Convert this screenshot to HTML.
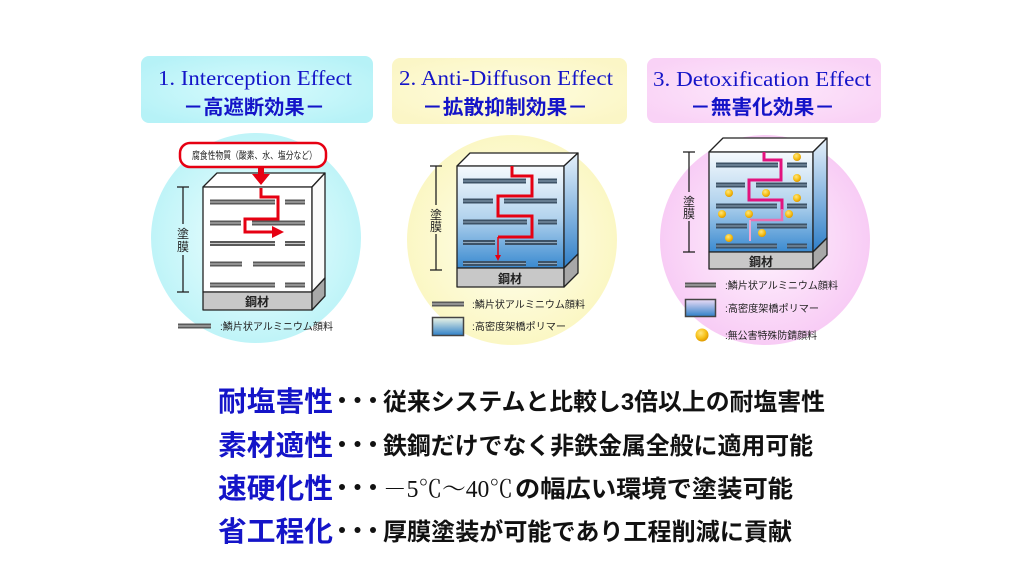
<!DOCTYPE html>
<html><head><meta charset="utf-8">
<style>
html,body{margin:0;padding:0;background:#fff;}
svg{display:block;}
.jp{font-family:"Liberation Sans","Noto Sans CJK JP",sans-serif;}
.ser{font-family:"Liberation Serif","Noto Serif CJK SC",serif;}
</style></head>
<body>
<svg width="1024" height="576" viewBox="0 0 1024 576" xmlns="http://www.w3.org/2000/svg">
<defs>
 <radialGradient id="c1" cx="50%" cy="50%" r="50%"><stop offset="0" stop-color="#f2ffff"/><stop offset="1" stop-color="#bff4f8"/></radialGradient>
 <radialGradient id="c2" cx="50%" cy="50%" r="50%"><stop offset="0" stop-color="#fffff0"/><stop offset="1" stop-color="#fbf7c4"/></radialGradient>
 <radialGradient id="c3" cx="50%" cy="50%" r="50%"><stop offset="0" stop-color="#fff4fe"/><stop offset="1" stop-color="#f8ccf5"/></radialGradient>
 <radialGradient id="h1" cx="50%" cy="50%" r="60%"><stop offset="0" stop-color="#d8fbfd"/><stop offset="1" stop-color="#b6f2f7"/></radialGradient>
 <radialGradient id="h2" cx="50%" cy="50%" r="60%"><stop offset="0" stop-color="#fffde0"/><stop offset="1" stop-color="#fbf6c6"/></radialGradient>
 <radialGradient id="h3" cx="50%" cy="50%" r="60%"><stop offset="0" stop-color="#fde8fb"/><stop offset="1" stop-color="#f9d2f6"/></radialGradient>
 <linearGradient id="fr" x1="0" y1="0" x2="0" y2="1"><stop offset="0" stop-color="#f6fafd"/><stop offset="0.5" stop-color="#b4d4ee"/><stop offset="1" stop-color="#3a8ad0"/></linearGradient>
 <linearGradient id="sd" x1="0" y1="0" x2="0" y2="1"><stop offset="0" stop-color="#e6f1fa"/><stop offset="1" stop-color="#2f7fc8"/></linearGradient>
 <linearGradient id="lg2" x1="0" y1="0" x2="0" y2="1"><stop offset="0" stop-color="#eef6e6"/><stop offset="1" stop-color="#2f80c8"/></linearGradient>
 <linearGradient id="lg3" x1="0" y1="0" x2="0" y2="1"><stop offset="0" stop-color="#ecdcf6"/><stop offset="1" stop-color="#2f80c8"/></linearGradient>
 <radialGradient id="dot" cx="40%" cy="35%" r="65%"><stop offset="0" stop-color="#ffe680"/><stop offset="0.6" stop-color="#f7c21a"/><stop offset="1" stop-color="#e09a00"/></radialGradient>
</defs>

<!-- Header boxes -->
<rect x="141" y="56" width="232" height="67" rx="8" fill="url(#h1)"/>
<rect x="392" y="58" width="235" height="66" rx="8" fill="url(#h2)"/>
<rect x="647" y="58" width="234" height="65" rx="8" fill="url(#h3)"/>

<g fill="#1414c8">
 <text class="ser" x="158" y="85" font-size="21" textLength="194" lengthAdjust="spacingAndGlyphs">1. Interception  Effect</text>
 <text class="ser" x="399" y="85" font-size="21" textLength="214" lengthAdjust="spacingAndGlyphs">2. Anti-Diffuson  Effect</text>
 <text class="ser" x="653" y="86" font-size="21" textLength="218" lengthAdjust="spacingAndGlyphs">3. Detoxification  Effect</text>
 <text class="jp" x="183" y="114" font-size="20" font-weight="bold" textLength="142" lengthAdjust="spacingAndGlyphs">－高遮断効果－</text>
 <text class="jp" x="422" y="114" font-size="20" font-weight="bold" textLength="166" lengthAdjust="spacingAndGlyphs">－拡散抑制効果－</text>
 <text class="jp" x="690" y="114" font-size="20" font-weight="bold" textLength="145" lengthAdjust="spacingAndGlyphs">－無害化効果－</text>
</g>

<!-- Circles -->
<circle cx="256" cy="238" r="105" fill="url(#c1)"/>
<circle cx="512" cy="240" r="105" fill="url(#c2)"/>
<circle cx="765" cy="240" r="105" fill="url(#c3)"/>

<!-- ===== Panel 1 ===== -->
<rect x="180" y="143" width="146" height="24" rx="10" fill="#fff" stroke="#e60012" stroke-width="2.5"/>
<text class="jp" x="192" y="159" font-size="10" fill="#222" textLength="125" lengthAdjust="spacingAndGlyphs">腐食性物質（酸素、水、塩分など）</text>
<g stroke="#222" stroke-width="1.3" stroke-linejoin="round">
 <polygon points="203,187 217,173 325,173 312,187" fill="#fff"/>
 <rect x="203" y="187" width="109" height="105" fill="#fff"/>
 <polygon points="312,187 325,173 325,278 312,292" fill="#fafafa"/>
 <rect x="203" y="292" width="109" height="18" fill="#c8c8c8"/>
 <polygon points="312,292 325,278 325,296 312,310" fill="#a8a8a8"/>
</g>
<text class="jp" x="257" y="306" font-size="12" font-weight="bold" fill="#222" text-anchor="middle">鋼材</text>
<g fill="#5a5a5a">
 <rect x="210" y="199.5" width="65" height="5"/><rect x="285" y="199.5" width="20" height="5"/>
 <rect x="210" y="220.5" width="31" height="5"/><rect x="252" y="220.5" width="53" height="5"/>
 <rect x="210" y="241" width="65" height="5"/><rect x="285" y="241" width="20" height="5"/>
 <rect x="210" y="261.5" width="32" height="5"/><rect x="253" y="261.5" width="52" height="5"/>
 <rect x="210" y="282.5" width="65" height="5"/><rect x="285" y="282.5" width="20" height="5"/>
</g>
<g fill="#c8c8c8">
 <rect x="210" y="201.5" width="65" height="1"/><rect x="285" y="201.5" width="20" height="1"/>
 <rect x="210" y="222.5" width="31" height="1"/><rect x="252" y="222.5" width="53" height="1"/>
 <rect x="210" y="243" width="65" height="1"/><rect x="285" y="243" width="20" height="1"/>
 <rect x="210" y="263.5" width="32" height="1"/><rect x="253" y="263.5" width="52" height="1"/>
 <rect x="210" y="284.5" width="65" height="1"/><rect x="285" y="284.5" width="20" height="1"/>
</g>
<!-- red arrows -->
<rect x="258" y="166" width="6" height="9" fill="#e60012"/>
<polygon points="252,174 270,174 261,185" fill="#e60012"/>
<polyline points="261,188 261,197 278,197 278,219 245,219 245,232 274,232" fill="none" stroke="#e60012" stroke-width="3"/>
<polygon points="272,226 284,232 272,238" fill="#e60012"/>
<!-- dim -->
<g stroke="#222" stroke-width="1.3">
 <line x1="177" y1="187" x2="189" y2="187"/><line x1="177" y1="292" x2="189" y2="292"/>
 <line x1="183" y1="187" x2="183" y2="224"/><line x1="183" y1="255" x2="183" y2="292"/>
</g>
<text class="jp" x="183" y="238" font-size="12" fill="#222" text-anchor="middle">塗</text>
<text class="jp" x="183" y="251" font-size="12" fill="#222" text-anchor="middle">膜</text>
<!-- legend -->
<rect x="178" y="323.5" width="33" height="5" fill="#5a5a5a"/><rect x="178" y="325.5" width="33" height="1" fill="#c8c8c8"/>
<text class="jp" x="220" y="330" font-size="10" fill="#222" textLength="113" lengthAdjust="spacingAndGlyphs">:鱗片状アルミニウム顔料</text>

<!-- ===== Panel 2 ===== -->
<g stroke="#222" stroke-width="1.3" stroke-linejoin="round">
 <polygon points="457,166 470,153 578,153 564,166" fill="#fff"/>
 <rect x="457" y="166" width="107" height="102" fill="url(#fr)"/>
 <polygon points="564,166 578,153 578,254 564,268" fill="url(#sd)"/>
 <rect x="457" y="268" width="107" height="19" fill="#c8c8c8"/>
 <polygon points="564,268 578,254 578,273 564,287" fill="#a8a8a8"/>
</g>
<text class="jp" x="510" y="283" font-size="12" font-weight="bold" fill="#222" text-anchor="middle">鋼材</text>
<g fill="#3d5266">
 <rect x="463" y="178.5" width="63" height="5"/><rect x="538" y="178.5" width="19" height="5"/>
 <rect x="463" y="198.5" width="30" height="5"/><rect x="504" y="198.5" width="53" height="5"/>
 <rect x="463" y="219.5" width="64" height="5"/><rect x="538" y="219.5" width="19" height="5"/>
 <rect x="463" y="240" width="32" height="5"/><rect x="505" y="240" width="52" height="5"/>
 <rect x="463" y="261" width="63" height="5"/><rect x="538" y="261" width="19" height="5"/>
</g>
<g fill="#8fa6ba">
 <rect x="463" y="180.5" width="63" height="1"/><rect x="538" y="180.5" width="19" height="1"/>
 <rect x="463" y="200.5" width="30" height="1"/><rect x="504" y="200.5" width="53" height="1"/>
 <rect x="463" y="221.5" width="64" height="1"/><rect x="538" y="221.5" width="19" height="1"/>
 <rect x="463" y="242" width="32" height="1"/><rect x="505" y="242" width="52" height="1"/>
 <rect x="463" y="263" width="63" height="1"/><rect x="538" y="263" width="19" height="1"/>
</g>
<polyline points="512,166 512,176 532,176 532,196 498,196 498,216 532,216 532,237 498,237" fill="none" stroke="#e60012" stroke-width="3"/>
<line x1="498" y1="237" x2="498" y2="256" stroke="#e60012" stroke-width="1.5"/>
<polygon points="495,255 501,255 498,261" fill="#e60012"/>
<g stroke="#222" stroke-width="1.3">
 <line x1="430" y1="166" x2="442" y2="166"/><line x1="430" y1="270" x2="442" y2="270"/>
 <line x1="436" y1="166" x2="436" y2="205"/><line x1="436" y1="234" x2="436" y2="270"/>
</g>
<text class="jp" x="436" y="219" font-size="12" fill="#222" text-anchor="middle">塗</text>
<text class="jp" x="436" y="231" font-size="12" fill="#222" text-anchor="middle">膜</text>
<rect x="432" y="301.5" width="32" height="5" fill="#5a5a5a"/><rect x="432" y="303.5" width="32" height="1" fill="#c8c8c8"/>
<text class="jp" x="472" y="308" font-size="10" fill="#222" textLength="113" lengthAdjust="spacingAndGlyphs">:鱗片状アルミニウム顔料</text>
<rect x="432.5" y="317.5" width="31" height="18" fill="url(#lg2)" stroke="#444" stroke-width="1.5"/>
<text class="jp" x="472" y="330" font-size="10" fill="#222" textLength="94" lengthAdjust="spacingAndGlyphs">:高密度架橋ポリマー</text>

<!-- ===== Panel 3 ===== -->
<g stroke="#222" stroke-width="1.3" stroke-linejoin="round">
 <polygon points="709,152 723,138 827,138 813,152" fill="#fff"/>
 <rect x="709" y="152" width="104" height="100" fill="url(#fr)"/>
 <polygon points="813,152 827,138 827,238 813,252" fill="url(#sd)"/>
 <rect x="709" y="252" width="104" height="17" fill="#c8c8c8"/>
 <polygon points="813,252 827,238 827,255 813,269" fill="#a8a8a8"/>
</g>
<text class="jp" x="761" y="266" font-size="12" font-weight="bold" fill="#222" text-anchor="middle">鋼材</text>
<g fill="#3d5266">
 <rect x="716" y="162.5" width="62" height="5"/><rect x="787" y="162.5" width="20" height="5"/>
 <rect x="716" y="182.5" width="29" height="5"/><rect x="756" y="182.5" width="51" height="5"/>
 <rect x="716" y="203.5" width="61" height="5"/><rect x="787" y="203.5" width="20" height="5"/>
 <rect x="716" y="223.5" width="31" height="5"/><rect x="757" y="223.5" width="50" height="5"/>
 <rect x="716" y="243.5" width="61" height="5"/><rect x="787" y="243.5" width="20" height="5"/>
</g>
<g fill="#8fa6ba">
 <rect x="716" y="164.5" width="62" height="1"/><rect x="787" y="164.5" width="20" height="1"/>
 <rect x="716" y="184.5" width="29" height="1"/><rect x="756" y="184.5" width="51" height="1"/>
 <rect x="716" y="205.5" width="61" height="1"/><rect x="787" y="205.5" width="20" height="1"/>
 <rect x="716" y="225.5" width="31" height="1"/><rect x="757" y="225.5" width="50" height="1"/>
 <rect x="716" y="245.5" width="61" height="1"/><rect x="787" y="245.5" width="20" height="1"/>
</g>
<polyline points="764,152 764,160 781,160 781,180 749,180 749,200 782,200 782,210" fill="none" stroke="#e2137e" stroke-width="3"/>
<polyline points="782,209 782,220 750,220" fill="none" stroke="#ec6fb0" stroke-width="2.5"/>
<line x1="750" y1="220" x2="750" y2="241" stroke="#f2a6d2" stroke-width="2"/>
<g fill="url(#dot)">
 <circle cx="797" cy="157" r="4"/><circle cx="797" cy="178" r="4"/>
 <circle cx="729" cy="193" r="4"/><circle cx="766" cy="193" r="4"/><circle cx="797" cy="198" r="4"/>
 <circle cx="722" cy="214" r="4"/><circle cx="749" cy="214" r="4"/><circle cx="789" cy="214" r="4"/>
 <circle cx="762" cy="233" r="4"/><circle cx="729" cy="238" r="4"/>
</g>
<g stroke="#222" stroke-width="1.3">
 <line x1="683" y1="152" x2="695" y2="152"/><line x1="683" y1="252" x2="695" y2="252"/>
 <line x1="689" y1="152" x2="689" y2="192"/><line x1="689" y1="221" x2="689" y2="252"/>
</g>
<text class="jp" x="689" y="206" font-size="12" fill="#222" text-anchor="middle">塗</text>
<text class="jp" x="689" y="218" font-size="12" fill="#222" text-anchor="middle">膜</text>
<rect x="685" y="282.5" width="31" height="5" fill="#5a5a5a"/><rect x="685" y="284.5" width="31" height="1" fill="#c8c8c8"/>
<text class="jp" x="725" y="289" font-size="10" fill="#222" textLength="113" lengthAdjust="spacingAndGlyphs">:鱗片状アルミニウム顔料</text>
<rect x="685.5" y="299.5" width="30" height="17" fill="url(#lg3)" stroke="#444" stroke-width="1.5"/>
<text class="jp" x="725" y="312" font-size="10" fill="#222" textLength="94" lengthAdjust="spacingAndGlyphs">:高密度架橋ポリマー</text>
<circle cx="702" cy="335" r="6.5" fill="url(#dot)"/>
<text class="jp" x="725" y="339" font-size="10" fill="#222" textLength="92" lengthAdjust="spacingAndGlyphs">:無公害特殊防錆顔料</text>

<!-- ===== Bottom text ===== -->
<g class="jp" font-weight="bold">
 <text x="218" y="411" font-size="28" fill="#1414c8" textLength="115" lengthAdjust="spacingAndGlyphs">耐塩害性</text>
 <text x="218" y="455" font-size="28" fill="#1414c8" textLength="115" lengthAdjust="spacingAndGlyphs">素材適性</text>
 <text x="218" y="498" font-size="28" fill="#1414c8" textLength="115" lengthAdjust="spacingAndGlyphs">速硬化性</text>
 <text x="218" y="541" font-size="28" fill="#1414c8" textLength="115" lengthAdjust="spacingAndGlyphs">省工程化</text>

 <text x="383" y="410" font-size="24" fill="#111" textLength="442" lengthAdjust="spacingAndGlyphs">従来システムと比較し3倍以上の耐塩害性</text>
 <text x="383" y="454" font-size="24" fill="#111" textLength="430" lengthAdjust="spacingAndGlyphs">鉄鋼だけでなく非鉄金属全般に適用可能</text>
 <text x="515" y="497" font-size="24" fill="#111" textLength="278" lengthAdjust="spacingAndGlyphs">の幅広い環境で塗装可能</text>
 <text x="383" y="540" font-size="24" fill="#111" textLength="409" lengthAdjust="spacingAndGlyphs">厚膜塗装が可能であり工程削減に貢献</text>
</g>
<g fill="#111">
 <circle cx="342" cy="400" r="3"/><circle cx="357.5" cy="400" r="3"/><circle cx="373" cy="400" r="3"/>
 <circle cx="342" cy="444" r="3"/><circle cx="357.5" cy="444" r="3"/><circle cx="373" cy="444" r="3"/>
 <circle cx="342" cy="487" r="3"/><circle cx="357.5" cy="487" r="3"/><circle cx="373" cy="487" r="3"/>
 <circle cx="342" cy="530" r="3"/><circle cx="357.5" cy="530" r="3"/><circle cx="373" cy="530" r="3"/>
</g>
<text class="ser" x="383" y="497" font-size="24" fill="#111" textLength="130" lengthAdjust="spacingAndGlyphs">－5℃～40℃</text>
</svg>
</body></html>
